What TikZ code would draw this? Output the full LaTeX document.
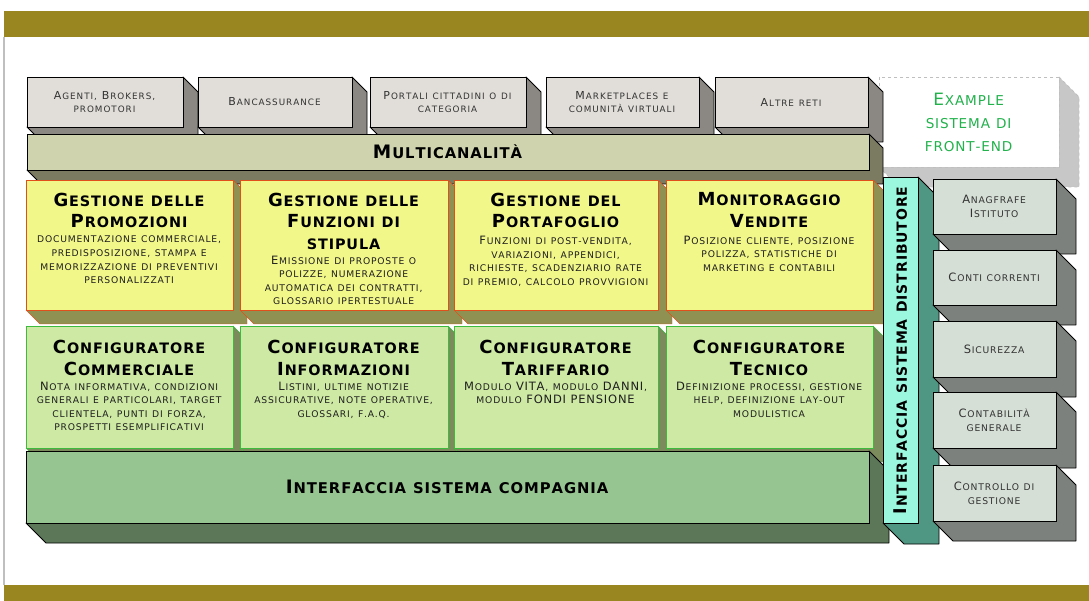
\documentclass[tikz,border=0pt]{standalone}
\usepackage{fontspec}
\setmainfont{DejaVu Sans}
\usetikzlibrary{calc}

\definecolor{gold}{HTML}{9A8620}
\definecolor{chface}{HTML}{E1DED9}
\definecolor{chside}{HTML}{8B8782}
\definecolor{mcface}{HTML}{CFD4AE}
\definecolor{mcside}{HTML}{7B7B62}
\definecolor{yface}{HTML}{F2F78A}
\definecolor{yside}{HTML}{8E9152}
\definecolor{yedge}{HTML}{E0501A}
\definecolor{gface}{HTML}{CDE9A3}
\definecolor{gside}{HTML}{7B8B5B}
\definecolor{gedge}{HTML}{3DBB3D}
\definecolor{bface}{HTML}{96C591}
\definecolor{bside}{HTML}{5B7757}
\definecolor{tface}{HTML}{9BF7DD}
\definecolor{tside}{HTML}{4F9783}
\definecolor{rface}{HTML}{D5DFD6}
\definecolor{rside}{HTML}{7C817D}
\definecolor{extext}{HTML}{22B24C}

% small capitals made by hand: lower case letters come out as smaller capitals
\newdimen\fsctrack
\newcommand{\track}[1]{\fsctrack #1\relax}
\ExplSyntaxOn
\seq_new:N \l__fsc_lines_seq
\tl_new:N \l__fsc_out_tl
\cs_new_protected:Npn \__fsc_char:n #1
  {
    \str_if_eq:eeTF { #1 } { \str_lowercase:n { #1 } }
      { { \fontsize { \fp_eval:n { 0.8 * \use:c { f@size } } } { 0pt } \selectfont \str_uppercase:n { #1 } } }
      { #1 }
    \kern \fsctrack \relax
  }
\cs_new_protected:Npn \__fsc_line:n #1
  { \str_map_inline:nn { #1 } { \__fsc_char:n { ##1 } } }
\NewDocumentCommand \fsc { m }
  {
    \seq_set_split:Nnn \l__fsc_lines_seq { \\ } { #1 }
    \tl_clear:N \l__fsc_out_tl
    \seq_map_indexed_inline:Nn \l__fsc_lines_seq
      {
        \int_compare:nNnT { ##1 } > { 1 } { \tl_put_right:Nn \l__fsc_out_tl { \\ } }
        \tl_put_right:Nn \l__fsc_out_tl { \__fsc_line:n { ##2 } }
      }
    \tl_use:N \l__fsc_out_tl
  }
\ExplSyntaxOff

\tikzset{
  chan/.style={fill=chface, draw=black, thick},
  yel/.style={fill=yface, draw=yedge, thick},
  grn/.style={fill=gface, draw=gedge, thick},
  ttl/.style={anchor=north, align=center, inner sep=0pt, execute at begin node={\rule{0pt}{13.2pt}},
    font=\fontsize{18}{21.5}\selectfont\bfseries\track{0.05em}},
  body/.style={anchor=north, align=center, inner sep=0pt, text=black!88, execute at begin node={\rule{0pt}{8.4pt}},
    font=\fontsize{11.5}{13.6}\selectfont\track{0.07em}},
  chtxt/.style={align=center, inner sep=0pt, text=black!80, font=\fontsize{11}{12.5}\selectfont\track{0.09em}},
  rtxt/.style={align=center, inner sep=0pt, text=black!80, font=\fontsize{11.5}{14}\selectfont\track{0.07em}},
  big/.style={align=center, inner sep=0pt, font=\fontsize{18.5}{20}\selectfont\bfseries\track{0.05em}}
}

% front face plus extruded side, going right and down
\newcommand{\slab}[6]{%
  \coordinate (#1-nw) at (#4);
  \coordinate (#1-se) at (#5);
  \filldraw[#6, line join=round] (#1-se |- #1-nw) -- ++(#3,#3) -- ($(#1-se)+(#3,#3)$)
    -- ($(#1-nw |- #1-se)+(#3,#3)$) -- (#1-nw |- #1-se) -- (#1-se) -- cycle;
  \draw[#2] (#1-nw) rectangle (#1-se);
}

\begin{document}
\begin{tikzpicture}[x=1pt,y=-1pt]
  \useasboundingbox (0,0) rectangle (1089,601);
  \fill[gold] (4,11) rectangle (1089,37);
  \fill[gold] (4,585) rectangle (1089,601);
  \draw[black!25, line width=1.2pt] (4,37) -- (4,585);

  % front-end example
  \slab{ex}{fill=white, draw=black!25, dashed, thick}{20}{879,77}{1059,167}{fill=black!22, draw=black!25, dashed, thick}
  \node[align=center, text=extext, font=\fontsize{17}{23}\selectfont\track{0.05em}] (example) at (969,122) {\fsc{Example\\ sistema di\\ front-end}};

  % channels
  \slab{c1}{chan}{15}{27,77}{183,127}{fill=chside, draw=black, thick}
  \slab{c2}{chan}{15}{198,77}{352,127}{fill=chside, draw=black, thick}
  \slab{c3}{chan}{15}{370,77}{526,127}{fill=chside, draw=black, thick}
  \slab{c4}{chan}{15}{546,77}{699,127}{fill=chside, draw=black, thick}
  \slab{c5}{chan}{15}{715,77}{868,127}{fill=chside, draw=black, thick}
  \node[chtxt] (agenti) at (105,102) {\fsc{Agenti, Brokers,\\ promotori}};
  \node[chtxt] (banca) at (275,102) {\fsc{Bancassurance}};
  \node[chtxt] (portali) at (448,102) {\fsc{Portali cittadini o di\\ categoria}};
  \node[chtxt] (market) at (622.5,102) {\fsc{Marketplaces e\\ comunità virtuali}};
  \node[chtxt] (altre) at (791.5,102) {\fsc{Altre reti}};

  \slab{mc}{fill=mcface, draw=black, thick}{14}{27,134}{869,170}{fill=mcside, draw=black, thick}
  \node[big] (multi) at (448,152) {\fsc{Multicanalità}};

  % gestione
  \slab{y1}{yel}{14}{26,180}{233,310}{fill=yside, draw=yedge}
  \slab{y2}{yel}{14}{240,180}{448,310}{fill=yside, draw=yedge}
  \slab{y3}{yel}{14}{454,180}{658,310}{fill=yside, draw=yedge}
  \slab{y4}{yel}{14}{666,180}{873,310}{fill=yside, draw=yedge}
  \node[ttl] (promo) at (129.5,192.5) {\fsc{Gestione delle\\ Promozioni}};
  \node[body] at ([yshift=-8pt]promo.south) {\fsc{documentazione commerciale,\\ predisposizione, stampa e\\ memorizzazione di preventivi\\ personalizzati}};
  \node[ttl] (stipula) at (344,192.5) {\fsc{Gestione delle\\ Funzioni di\\ stipula}};
  \node[body] at ([yshift=-6pt]stipula.south) {\fsc{Emissione di proposte o\\ polizze, numerazione\\ automatica dei contratti,\\ glossario ipertestuale}};
  \node[ttl] (porta) at (556,192.5) {\fsc{Gestione del\\ Portafoglio}};
  \node[body] at ([yshift=-8pt]porta.south) {\fsc{Funzioni di post-vendita,\\ variazioni, appendici,\\ richieste, scadenziario rate\\ di premio, calcolo provvigioni}};
  \node[ttl] (vendite) at (769.5,192.5) {\fsc{Monitoraggio\\ Vendite}};
  \node[body] at ([yshift=-8pt]vendite.south) {\fsc{Posizione cliente, posizione\\ polizza, statistiche di\\ marketing e contabili}};

  % configuratori
  \slab{g1}{grn}{14}{26,326}{233,448}{fill=gside, draw=gedge}
  \slab{g2}{grn}{14}{240,326}{448,448}{fill=gside, draw=gedge}
  \slab{g3}{grn}{14}{454,326}{658,448}{fill=gside, draw=gedge}
  \slab{g4}{grn}{14}{666,326}{873,448}{fill=gside, draw=gedge}
  \node[ttl] (comm) at (129.5,340) {\fsc{Configuratore\\ Commerciale}};
  \node[body] at ([yshift=-6pt]comm.south) {\fsc{Nota informativa, condizioni\\ generali e particolari, target\\ clientela, punti di forza,\\ prospetti esemplificativi}};
  \node[ttl] (info) at (344,340) {\fsc{Configuratore\\ Informazioni}};
  \node[body] at ([yshift=-6pt]info.south) {\fsc{Listini, ultime notizie\\ assicurative, note operative,\\ glossari, f.a.q.}};
  \node[ttl] (tarif) at (556,340) {\fsc{Configuratore\\ Tariffario}};
  \node[body] at ([yshift=-6pt]tarif.south) {\fsc{Modulo VITA, modulo DANNI,\\ modulo FONDI PENSIONE}};
  \node[ttl] (tecn) at (769.5,340) {\fsc{Configuratore\\ Tecnico}};
  \node[body] at ([yshift=-6pt]tecn.south) {\fsc{Definizione processi, gestione\\ help, definizione lay-out\\ modulistica}};

  \slab{bb}{fill=bface, draw=black, thick}{20}{26,451}{869,523}{fill=bside, draw=black, thick}
  \node[big] (compagnia) at (447.5,487) {\fsc{Interfaccia sistema compagnia}};

  \slab{tb}{fill=tface, draw=black, thick}{21}{883,177}{918,523}{fill=tside, draw=black, thick}
  \node[big, rotate=90, font=\fontsize{17.5}{20}\selectfont\bfseries\track{0.05em}] (distributore) at (900.5,350) {\fsc{Interfaccia sistema distributore}};

  % sistemi istituto
  \slab{r1}{fill=rface, draw=black, thick}{20}{933,179}{1056,234}{fill=rside, draw=black, thick}
  \slab{r2}{fill=rface, draw=black, thick}{20}{933,250}{1056,305}{fill=rside, draw=black, thick}
  \slab{r3}{fill=rface, draw=black, thick}{20}{933,321}{1056,377}{fill=rside, draw=black, thick}
  \slab{r4}{fill=rface, draw=black, thick}{20}{933,392}{1056,448}{fill=rside, draw=black, thick}
  \slab{r5}{fill=rface, draw=black, thick}{20}{933,465}{1056,521}{fill=rside, draw=black, thick}
  \node[rtxt] (anagrafe) at (994.5,206.5) {\fsc{Anagfrafe\\ Istituto}};
  \node[rtxt] (conti) at (994.5,277.5) {\fsc{Conti correnti}};
  \node[rtxt] (sicurezza) at (994.5,349) {\fsc{Sicurezza}};
  \node[rtxt] (contab) at (994.5,420) {\fsc{Contabilità\\ generale}};
  \node[rtxt] (controllo) at (994.5,493) {\fsc{Controllo di\\ gestione}};
\end{tikzpicture}
\end{document}
